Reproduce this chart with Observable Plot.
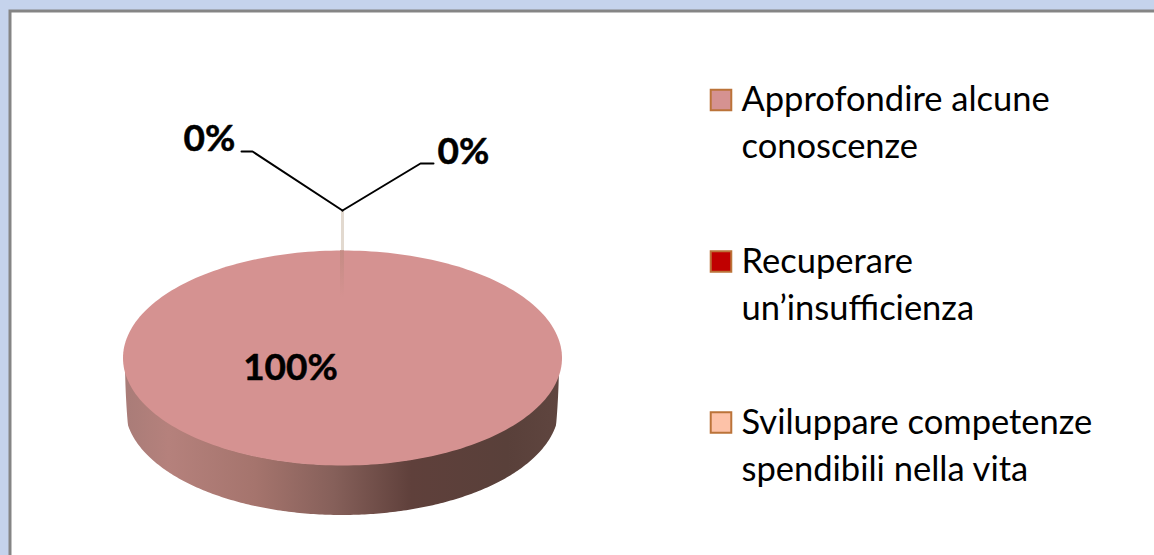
<!DOCTYPE html>
<html>
<head>
<meta charset="utf-8">
<style>html,body{margin:0;padding:0;background:#c5d3ec;overflow:hidden}svg{display:block}</style>
<script src="https://cdn.jsdelivr.net/npm/d3@7"></script>
<script src="https://cdn.jsdelivr.net/npm/@observablehq/plot@0.6"></script>
</head>
<body>
<script>
// Data
const categories = ["Approfondire alcune\nconoscenze", "Recuperare\nun’insufficienza", "Sviluppare competenze\nspendibili nella vita"];
const shares = [100, 0, 0];
const sliceColors = ["#d59291", "#c00000", "#fdc2a8"];
const percentLabels = ["100%", "0%", "0%"];

// Layout (pixel space of the picture)
const W = 1154, H = 555, F = "Lato, Carlito, Calibri, sans-serif";
const cx = 342, cy = 357.5, rx = 219.5, ry = 107.5, depth = 50, rimInset = 2.5;
const labelX = [290, 209, 463], labelY = [368, 139, 152];
const legendX = 720.5, legendTextX = 741, legendY = [99.5, 261, 422];
const legendRowY = [119, 281, 442];
const pie = d3.pie().sort(null).startAngle(0).endAngle(2 * Math.PI)(shares);

const sliceOutline = pie.flatMap((s, i) => d3.range(0, 241).map(k => {
  const a = s.startAngle + (s.endAngle - s.startAngle) * k / 240;
  return {cat: categories[i], x: cx + rx * Math.sin(a), y: cy - ry * Math.cos(a)};
}));
const rim = d3.range(0, 241).map(k => {
  const a = Math.PI * k / 240;
  const c = Math.cos(a), s = Math.sin(a);
  return {x: cx + rx * c, y1: cy + ry * s, y2: cy + ry * s + depth * Math.min(1, s * 6 + .02), x2: cx + (rx - rimInset) * c};
});
const legend = categories.map((c, i) => ({cat: c, y: legendY[i], ty: legendRowY[i]}));
const leaders = [
  {k: "a", x: 241, y: 151}, {k: "a", x: 252, y: 151}, {k: "a", x: 342, y: 210},
  {k: "b", x: 342, y: 210}, {k: "b", x: 420, y: 163}, {k: "b", x: 433, y: 163}
];
const defs = () => {
  const d = d3.create("svg:defs");
  const g = d.append("linearGradient").attr("id", "rimGrad");
  [[0, "#a97c78"], [.1, "#b5817c"], [.3, "#a5746d"], [.48, "#86605a"], [.66, "#5f403b"], [.88, "#59403a"], [1, "#5f453f"]]
    .forEach(([o, c]) => g.append("stop").attr("offset", o).attr("stop-color", c));
  const f = d.append("linearGradient").attr("id", "fade").attr("x1", 0).attr("x2", 0).attr("y1", 0).attr("y2", 1);
  f.append("stop").attr("offset", 0).attr("stop-color", "#bf8a80").attr("stop-opacity", .75);
  f.append("stop").attr("offset", 1).attr("stop-color", "#bf8a80").attr("stop-opacity", 0);
  return d.node();
};

const chart = Plot.plot({
  width: W, height: H, margin: 0,
  x: {domain: [0, W], range: [0, W], axis: null},
  y: {domain: [0, H], range: [0, H], axis: null},
  color: {type: "ordinal", domain: categories, range: sliceColors},
  style: {background: "#c5d3ec"},
  marks: [
    defs,
    Plot.rect([0], {x1: 10, x2: W + 5, y1: 11, y2: H + 5, fill: "white", stroke: "#858585", strokeWidth: 3}),
    Plot.areaY(rim, {x: "x2", y1: "y1", y2: "y2", fill: "url(#rimGrad)"}),
    Plot.line(sliceOutline, {x: "x", y: "y", z: "cat", fill: "cat", stroke: null}),
    Plot.ruleX([cx], {y1: 211, y2: 250, stroke: "#e2d9cf", strokeWidth: 3}),
    Plot.rect([0], {x1: cx - 2, x2: cx + 2, y1: 250, y2: 297, fill: "url(#fade)"}),
    Plot.line(leaders, {x: "x", y: "y", z: "k", stroke: "#000", strokeWidth: 2, strokeLinejoin: "miter"}),
    Plot.text(percentLabels, {x: (d, i) => labelX[i], y: (d, i) => labelY[i], text: d => d, fontSize: 37, fontWeight: 700, fontFamily: F, fill: "#000", stroke: "#000", strokeWidth: .5}),
    Plot.dot(legend, {x: legendX, y: "y", symbol: "square", r: 11.6, fill: "cat", stroke: "#bb7339", strokeWidth: 2}),
    Plot.text(legend, {x: legendTextX, y: "ty", text: "cat", textAnchor: "start", fontSize: 34.5, lineHeight: 1.36, fontFamily: F, fill: "#000"})
  ]
});
document.body.appendChild(chart);
</script>
</body>
</html>
